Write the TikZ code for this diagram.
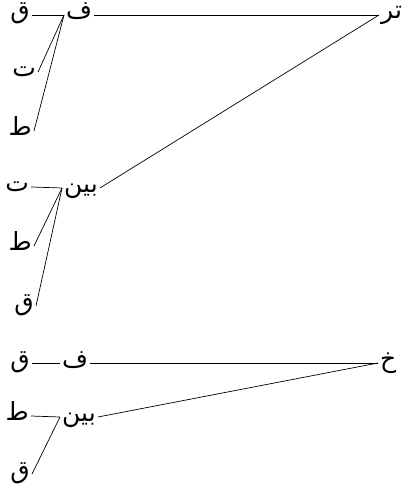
\documentclass[tikz,border=0pt]{standalone}
\usepackage{fontspec}
\usetikzlibrary{positioning}
\TeXXeTstate=1
\newfontfamily\arabicfont[Script=Arabic]{DejaVu Sans}
\newcommand{\rtl}[1]{\beginR#1\endR}
\tikzstyle{word} = [inner sep=2pt, text height=12pt, text depth=4pt,
                    font=\arabicfont\fontsize{25}{30}\selectfont]
\tikzstyle{link} = [line width=0.7pt]
\begin{document}
\begin{tikzpicture}[x=1pt, y=-1pt]
  \useasboundingbox (0,0) rectangle (405,495);

  % first tree
  \node (tr)  [word, anchor=west] at (379,15)  {\rtl{تر}};
  \node (f1)  [word, anchor=west] at (64,15)   {\rtl{ف}};
  \node (q1)  [word, anchor=east] at (32,15)   {\rtl{ق}};
  \node (t1)  [word, anchor=east] at (38,72)   {\rtl{ت}};
  \node (ta1) [word, anchor=east] at (34,131)  {\rtl{ط}};
  \node (bn1) [word, anchor=west] at (62,188)  {\rtl{بين}};
  \node (t2)  [word, anchor=east] at (31,187)  {\rtl{ت}};
  \node (ta2) [word, anchor=east] at (34,246)  {\rtl{ط}};
  \node (q2)  [word, anchor=east] at (36,306)  {\rtl{ق}};

  % second tree
  \node (kh)  [word, anchor=west] at (378,363) {\rtl{خ}};
  \node (f2)  [word, anchor=west] at (60,363)  {\rtl{ف}};
  \node (q3)  [word, anchor=east] at (32,363)  {\rtl{ق}};
  \node (bn2) [word, anchor=west] at (60,417)  {\rtl{بين}};
  \node (ta3) [word, anchor=east] at (31,416)  {\rtl{ط}};
  \node (q4)  [word, anchor=east] at (32,474)  {\rtl{ق}};

  \draw [link] (tr.west)  -- (f1.east);
  \draw [link] (tr.west)  -- (bn1.east);
  \draw [link] (f1.west)  -- (q1.east);
  \draw [link] (f1.west)  -- (t1.east);
  \draw [link] (f1.west)  -- (ta1.east);
  \draw [link] (bn1.west) -- (t2.east);
  \draw [link] (bn1.west) -- (ta2.east);
  \draw [link] (bn1.west) -- (q2.east);
  \draw [link] (kh.west)  -- (f2.east);
  \draw [link] (kh.west)  -- (bn2.east);
  \draw [link] (f2.west)  -- (q3.east);
  \draw [link] (bn2.west) -- (ta3.east);
  \draw [link] (bn2.west) -- (q4.east);
\end{tikzpicture}
\end{document}
